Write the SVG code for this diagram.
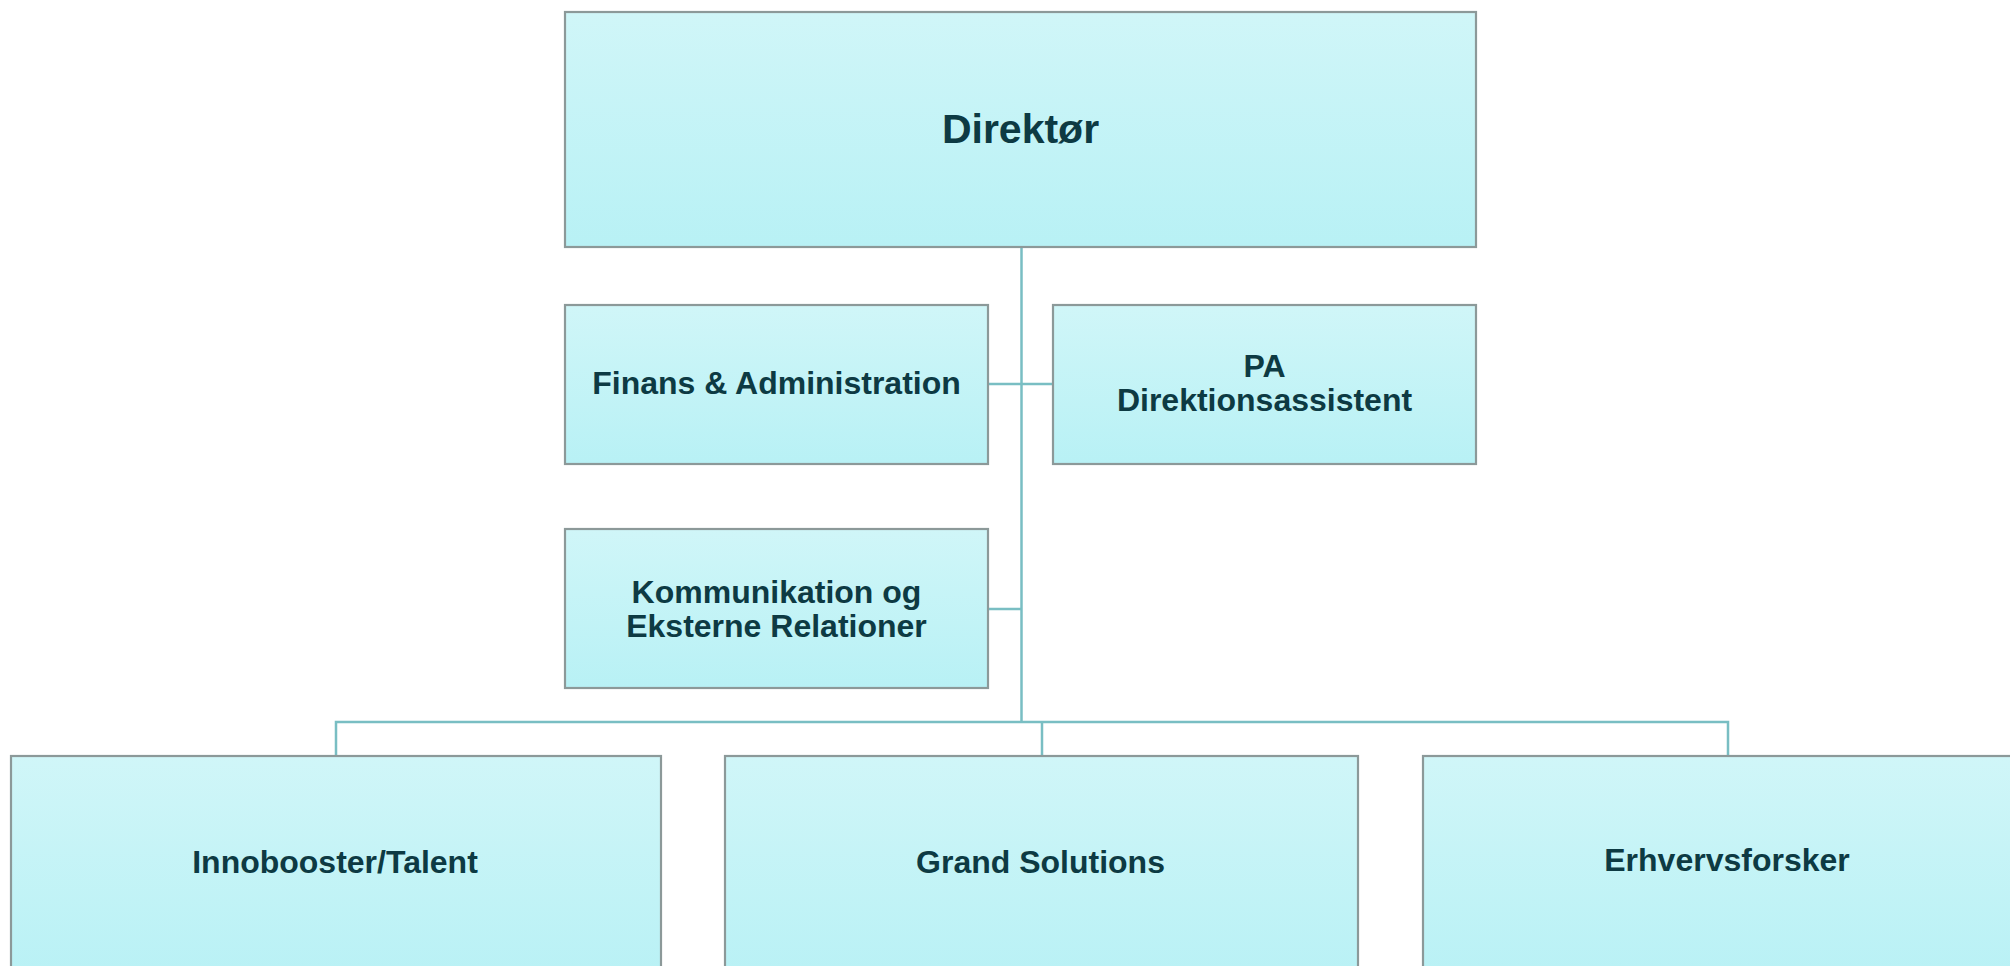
<svg xmlns="http://www.w3.org/2000/svg" width="2010" height="966" viewBox="0 0 2010 966">
<defs>
<linearGradient id="g" x1="0" y1="0" x2="0" y2="1">
<stop offset="0" stop-color="#d0f6f8"/>
<stop offset="1" stop-color="#b8f1f5"/>
</linearGradient>
<style>
.box{fill:url(#g);stroke:#8c9999;stroke-width:2.2}
.lbl{font-family:"Liberation Sans",Arial,sans-serif;font-weight:bold;fill:#0d3a43;text-anchor:middle;font-size:32px}
.conn{fill:none;stroke:#79bec3;stroke-width:2.5}
</style>
</defs>
<rect width="2010" height="966" fill="#ffffff"/>
<g id="connectors" class="conn">
<path d="M1021.5 247 V722"/>
<path d="M988 384 H1053"/>
<path d="M988 609 H1021.5"/>
<path d="M336 756 V722 H1728 V756"/>
<path d="M1042 722 V756"/>
</g>
<g id="n-direktor">
<rect class="box" x="565" y="12" width="911" height="235"/>
<text class="lbl" x="1020.5" y="143" style="font-size:41px">Direktør</text>
</g>
<g id="n-finans">
<rect class="box" x="565" y="305" width="423" height="159"/>
<text class="lbl" x="776.5" y="394">Finans &amp; Administration</text>
</g>
<g id="n-pa">
<rect class="box" x="1053" y="305" width="423" height="159"/>
<text class="lbl" x="1264.5" y="377">PA</text>
<text class="lbl" x="1264.5" y="410.5">Direktionsassistent</text>
</g>
<g id="n-kommunikation">
<rect class="box" x="565" y="529" width="423" height="159"/>
<text class="lbl" x="776.5" y="603">Kommunikation og</text>
<text class="lbl" x="776.5" y="636.5">Eksterne Relationer</text>
</g>
<g id="n-innobooster">
<rect class="box" x="11" y="756" width="650" height="230"/>
<text class="lbl" x="335" y="873">Innobooster/Talent</text>
</g>
<g id="n-grand">
<rect class="box" x="725" y="756" width="633" height="230"/>
<text class="lbl" x="1040.5" y="873">Grand Solutions</text>
</g>
<g id="n-erhverv">
<rect class="box" x="1423" y="756" width="640" height="230"/>
<text class="lbl" x="1727" y="871">Erhvervsforsker</text>
</g>
</svg>
